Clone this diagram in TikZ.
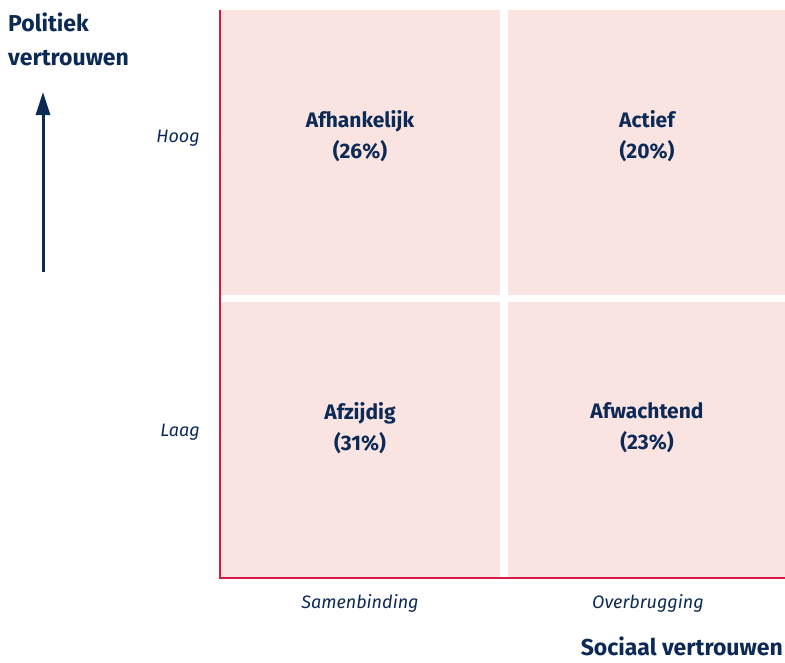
\documentclass[tikz,border=0pt]{standalone}
\usepackage{fontspec}
\setmainfont{Fira Sans}
\usetikzlibrary{arrows.meta}
\definecolor{navy}{HTML}{0C2A55}
\definecolor{pinkfill}{HTML}{F9E4E2}
\definecolor{axisred}{HTML}{D51A45}
\tikzset{
  quad/.style={fill=pinkfill, draw=none},
  qlabel/.style={font=\fontsize{21}{31}\selectfont\bfseries, text=navy, align=center, inner sep=0pt},
  tick/.style={font=\fontsize{18}{20}\selectfont\itshape, text=navy, inner sep=0pt},
  axtitle/.style={font=\fontsize{23}{34}\selectfont\bfseries, text=navy, inner sep=0pt},
}
\begin{document}
\begin{tikzpicture}[x=1pt,y=-1pt]
\useasboundingbox (0,0) rectangle (785,662);
% quadrants
\fill[quad] (221,10) rectangle (500,295);
\fill[quad] (508,10) rectangle (785,295);
\fill[quad] (221,302) rectangle (500,577);
\fill[quad] (508,302) rectangle (785,577);
% axes
\coordinate (ytop) at (220,10);
\coordinate (origin) at (220,577.5);
\coordinate (xend) at (785,577.5);
\draw[axisred, line width=2pt] (ytop) -- (origin) -- (xend);
% quadrant labels
\node[qlabel] (q1) at (360,136) {Afhankelijk\\(26\%)};
\node[qlabel] (q2) at (647,136) {Actief\\(20\%)};
\node[qlabel] (q3) at (360,428) {Afzijdig\\(31\%)};
\node[qlabel] (q4) at (647,428) {Afwachtend\\(23\%)};
% tick labels
\node[tick, anchor=base east] (hoog) at (200,142) {Hoog};
\node[tick, anchor=base east] (laag) at (200,436) {Laag};
\node[tick, anchor=base] (samen) at (360,608) {Samenbinding};
\node[tick, anchor=base] (over) at (648,608) {Overbrugging};
% axis titles
\node[axtitle, anchor=north west, align=left] (pv) at (8,13) {Politiek\\vertrouwen};
\node[axtitle, anchor=base east] (sv) at (783,655) {Sociaal vertrouwen};
% arrow
\coordinate (abot) at (43,272);
\coordinate (atop) at (43,92);
\draw[navy, line width=3pt, -{Triangle[length=23pt,width=14pt]}] (abot) -- (atop);
\end{tikzpicture}
\end{document}
